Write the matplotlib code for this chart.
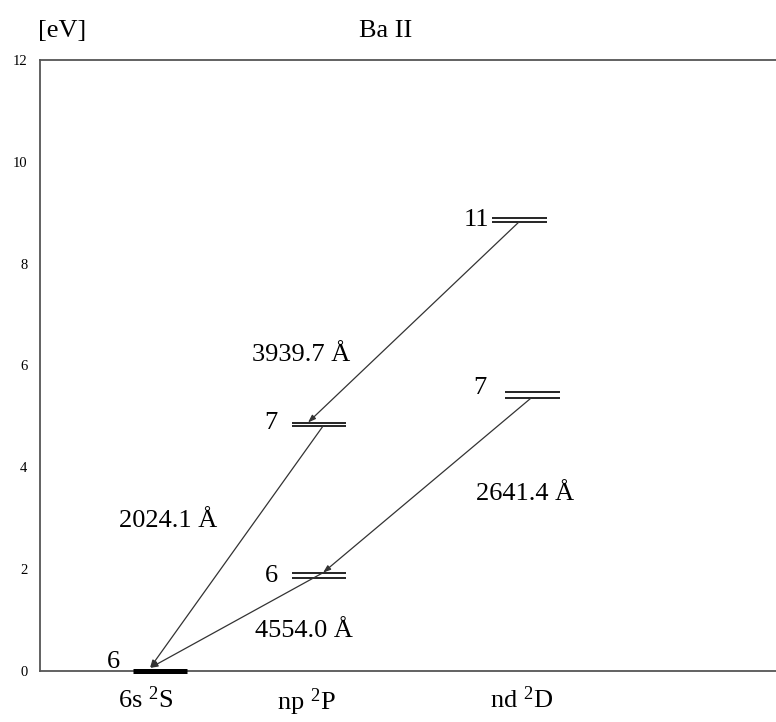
import matplotlib
matplotlib.use("Agg")
import matplotlib.pyplot as plt

plt.rcParams['font.family'] = ['Liberation Serif', 'DejaVu Serif']
plt.rcParams['mathtext.fontset'] = 'custom'
plt.rcParams['mathtext.rm'] = 'Liberation Serif'
plt.rcParams['mathtext.it'] = 'Liberation Serif:italic'

# ---- data ----
series_names = ["6s $^2$S", "np $^2$P", "nd $^2$D"]
# level energies (eV): (lower line, upper line)
ground_E = 0.0
np6_E = (1.83, 1.93)
np7_E = (4.81, 4.88)
nd7_E = (5.36, 5.47)
nd11_E = (8.82, 8.90)
level_n = ["6", "6", "7", "7", "11"]
wavelengths = ["3939.7 Å", "2024.1 Å", "2641.4 Å", "4554.0 Å"]
yticks = [0, 2, 4, 6, 8, 10, 12]

# ---- layout (x in pixel-like units) ----
W, H = 776, 722
fig = plt.figure(figsize=(W / 100, H / 100), dpi=100)
ax = fig.add_axes([40 / W, (H - 671) / H, (W - 40) / W, (671 - 60) / H])
ax.set_xlim(40, 776)
ax.set_ylim(0, 12)

spine_c = '#555555'
for s in ['left', 'top', 'bottom']:
    ax.spines[s].set_color(spine_c)
    ax.spines[s].set_linewidth(1.3)
ax.spines['right'].set_visible(False)

ax.set_yticks(yticks)
ax.set_yticklabels([str(t) for t in yticks], fontsize=10.5)
ax.tick_params(axis='y', length=0, pad=9)
ax.set_xticks([146, 306, 522])
ax.set_xticklabels(series_names, fontsize=19)
ax.tick_params(axis='x', length=0, pad=11)

# levels
col_S = (133, 187)
col_P = (292, 346)
col_D11 = (492, 547)
col_D7 = (505, 560)

ax.plot(col_S, [ground_E, ground_E], color='black', lw=3.6, solid_capstyle='butt', clip_on=False, zorder=3)
for xs, Es in [(col_P, np6_E), (col_P, np7_E), (col_D11, nd11_E), (col_D7, nd7_E)]:
    for E in Es:
        ax.plot(xs, [E, E], color='black', lw=1.2, solid_capstyle='butt')

# transitions (start -> end with arrow)
trans = [
    ((519, nd11_E[0]), (308, np7_E[1])),
    ((323, np7_E[0]), (150, ground_E + 0.06)),
    ((531, nd7_E[0]), (323, np6_E[1])),
    ((323, np6_E[1]), (150, ground_E + 0.06)),
]
for (x0, y0), (x1, y1) in trans:
    ax.annotate('', xy=(x1, y1), xytext=(x0, y0),
                arrowprops=dict(arrowstyle='-|>,head_length=0.45,head_width=0.16',
                                color='#333333', lw=0.9, shrinkA=0, shrinkB=0))

# level number labels
tk = dict(fontsize=19, ha='center', va='center')
ax.text(113, 0.18, level_n[0], **tk)
ax.text(271, 1.87, level_n[1], **tk)
ax.text(271, 4.87, level_n[2], **tk)
ax.text(480, 5.56, level_n[3], **tk)
ax.text(476, 8.86, level_n[4], **tk)

# wavelength labels
ax.text(301, 6.2, wavelengths[0], **tk)
ax.text(168, 2.95, wavelengths[1], **tk)
ax.text(525, 3.48, wavelengths[2], **tk)
ax.text(304, 0.79, wavelengths[3], **tk)

# header texts
fig.text(62 / W, 1 - 31 / H, "[eV]", fontsize=19, ha='center', va='center')
fig.text(386 / W, 1 - 31 / H, "Ba II", fontsize=19, ha='center', va='center')

fig.savefig("out.png", dpi=100)
